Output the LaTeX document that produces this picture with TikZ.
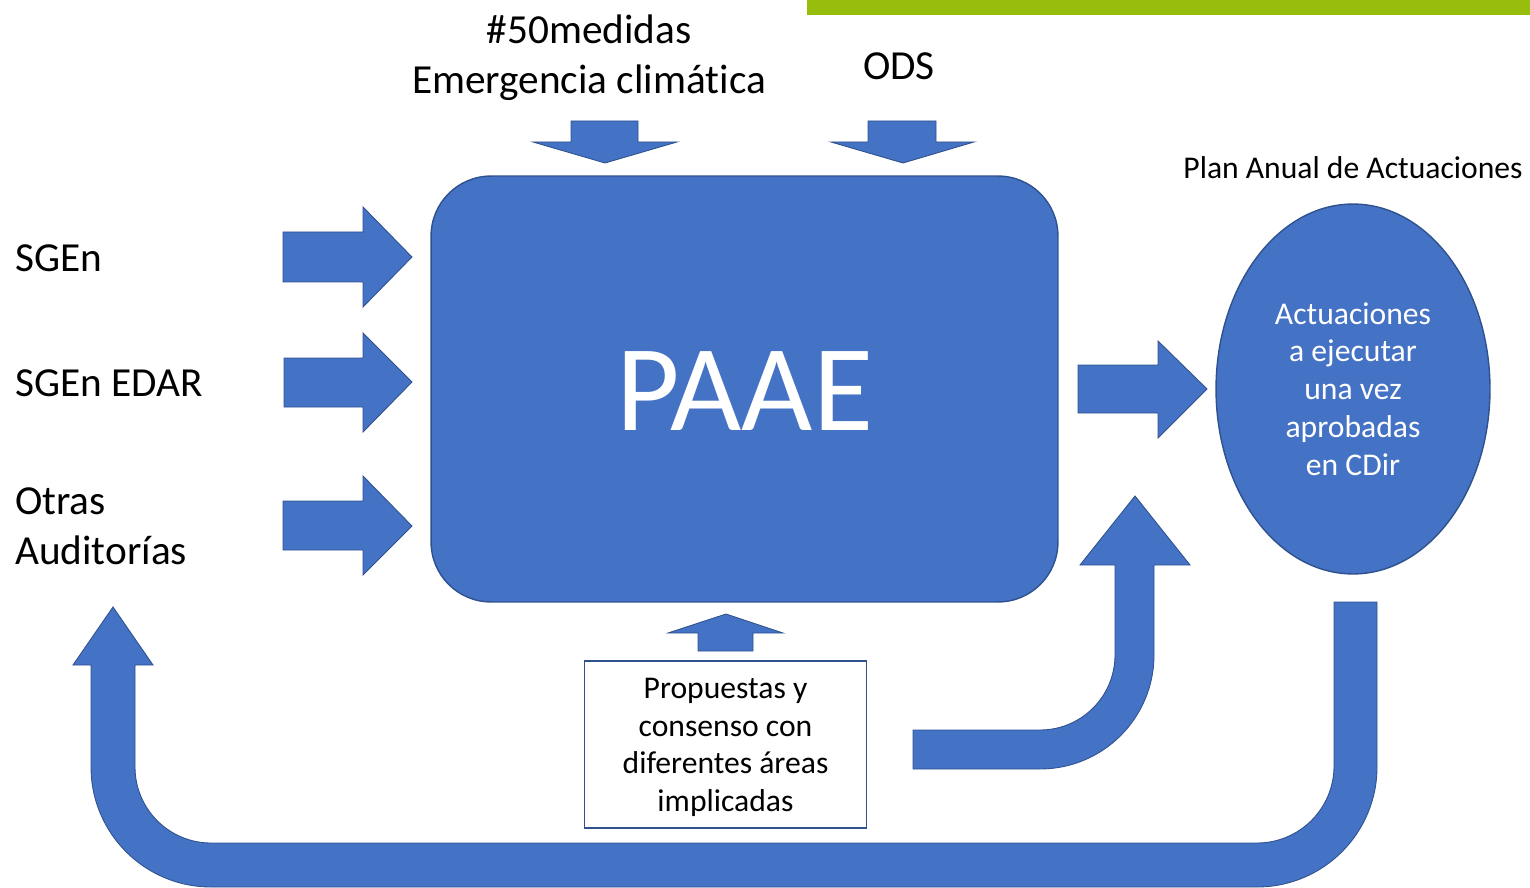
\documentclass[tikz,border=0pt]{standalone}
\usepackage{fontspec}
\setmainfont{Carlito}[RawFeature={-liga;-clig;-calt;-dlig}]
\usetikzlibrary{positioning,shapes.geometric}

\definecolor{boxblue}{HTML}{4472C4}
\definecolor{edgeblue}{HTML}{2F528F}
\definecolor{barGreen}{HTML}{97BE0D}

\begin{document}
\begin{tikzpicture}[x=0.02cm, y=-0.02cm,
    blockarrow/.style = {fill=boxblue, draw=edgeblue, line width=0.5pt},
    bigtext/.style = {font=\fontsize{23.5}{28.3}\selectfont},
    smalltext/.style = {font=\fontsize{18}{21.5}\selectfont, align=center}]
    \useasboundingbox (0,0) rectangle (1530,888);
    \fill[barGreen] (807,0) rectangle (1530,15);

    \node[draw=edgeblue, fill=boxblue, line width=0.8pt, rounded corners=1.2cm,
          minimum width=12.54cm, minimum height=8.52cm] (paae) at (744.5,389) {};
    \node[text=white, font=\fontsize{70}{74}\selectfont] at (744.5,391) {PAAE};

    \node[ellipse, draw=edgeblue, fill=boxblue, line width=0.8pt, inner sep=0pt,
          minimum width=5.48cm, minimum height=7.4cm] (act) at (1353,389) {};
    \node[smalltext, text=white] at (act) {Actuaciones\\a ejecutar\\una vez\\aprobadas\\en CDir};
    \node[smalltext] (plan) [above=0.36cm of act] {Plan Anual de Actuaciones};

    \node[draw=edgeblue, line width=0.6pt, fill=white, minimum width=5.64cm,
          minimum height=3.34cm] (prop) at (725.5,744.5) {};
    \node[smalltext] at (725.5,747.5) {Propuestas y\\consenso con\\diferentes áreas\\implicadas};

    \node[bigtext, align=center] (medidas) at (589,58) {\#50medidas\\Emergencia climática};
    \node[bigtext] (ods) at (899,66) {ODS};
    \node[bigtext, anchor=west] (sgen) at (9,258) {SGEn};
    \node[bigtext, anchor=west] (edar) at (9,383) {SGEn EDAR};
    \node[bigtext, anchor=west, align=left] (otras) at (9,526) {Otras\\Auditorías};

    % arrows from above
    \draw[blockarrow] (571,121) -- (638,121) -- (638,142) -- (677,142) -- (605,163)
        -- (533,142) -- (571,142) -- cycle;
    \draw[blockarrow] (868,121) -- (936,121) -- (936,142) -- (974,142) -- (903,163)
        -- (831,142) -- (868,142) -- cycle;

    % arrows from the left
    \draw[blockarrow] (283,232) -- (363,232) -- (363,207) -- (412,257) -- (363,307)
        -- (363,282) -- (283,282) -- cycle;
    \draw[blockarrow] (284,358) -- (363,358) -- (363,333) -- (412,382) -- (363,432)
        -- (363,407) -- (284,407) -- cycle;
    \draw[blockarrow] (283,501) -- (363,501) -- (363,476) -- (412,526) -- (363,575)
        -- (363,550) -- (283,550) -- cycle;

    % to the plan
    \draw[blockarrow] (1078,365) -- (1158,365) -- (1158,341) -- (1207,389) -- (1158,438)
        -- (1158,413) -- (1078,413) -- cycle;

    % from the proposals
    \draw[blockarrow] (698,651) -- (698,633) -- (668,633) -- (726,614) -- (783,633)
        -- (753,633) -- (753,651) -- cycle;

    % bent arrow up
    \draw[blockarrow] (913,730) -- (1040,730) arc[start angle=90, end angle=0, radius=75]
        -- (1115,565) -- (1080,565) -- (1135,496) -- (1190,565) -- (1154,565)
        -- (1154,655) arc[start angle=0, end angle=90, radius=114] -- (913,769) -- cycle;

    % feedback loop
    \draw[blockarrow] (1334,602) -- (1377,602) -- (1377,767)
        arc[start angle=0, end angle=90, radius=120] -- (211,887)
        arc[start angle=90, end angle=180, radius=120] -- (91,665) -- (73,665)
        -- (113,607) -- (153,665) -- (135,665) -- (135,767)
        arc[start angle=180, end angle=90, radius=76] -- (1257,843)
        arc[start angle=90, end angle=0, radius=77] -- cycle;
\end{tikzpicture}
\end{document}
